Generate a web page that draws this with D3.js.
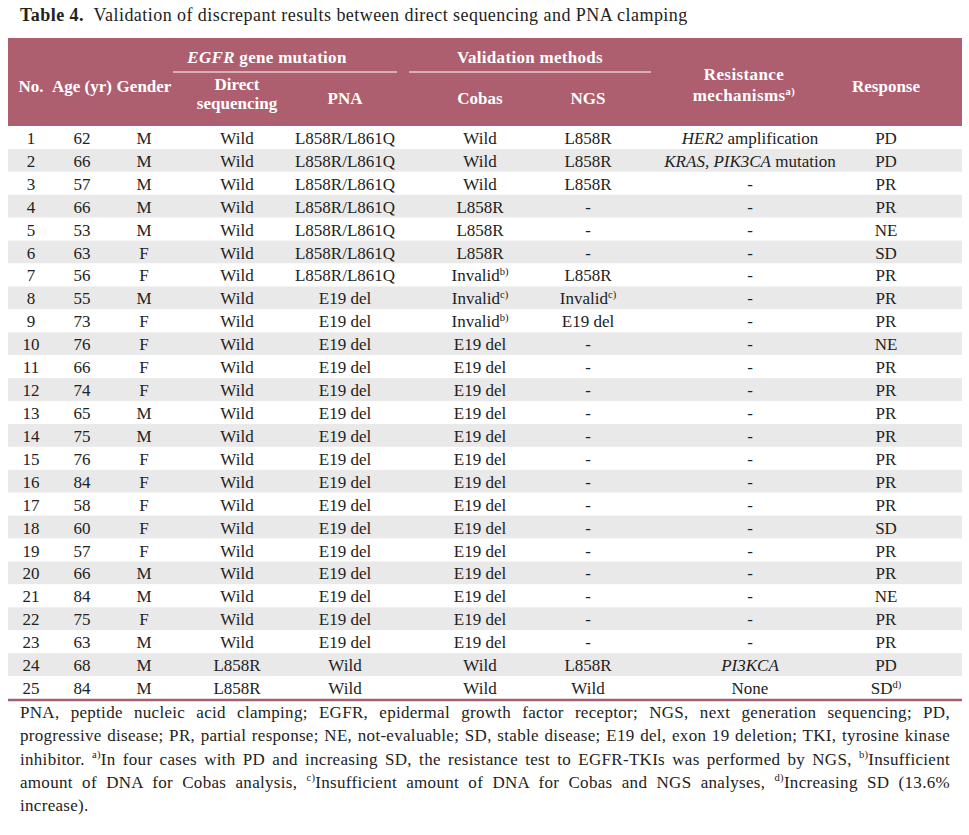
<!DOCTYPE html>
<html>
<head>
<meta charset="utf-8">
<script src="https://cdn.jsdelivr.net/npm/d3@7"></script>
<style>
body { margin: 0; background: #fff; }
text { font-family: "Liberation Serif", "Times New Roman", serif; }
</style>
</head>
<body>
<div id="table4"></div>
<script>
// table values, one list per column
var nos = ["1","2","3","4","5","6","7","8","9","10","11","12","13","14","15","16","17","18","19","20","21","22","23","24","25"];
var ages = ["62","66","57","66","53","63","56","55","73","76","66","74","65","75","76","84","58","60","57","66","84","75","63","68","84"];
var genders = ["M","M","M","M","M","F","F","M","F","F","F","F","M","M","F","F","F","F","F","M","M","F","M","M","M"];
var directSeq = ["Wild","Wild","Wild","Wild","Wild","Wild","Wild","Wild","Wild","Wild","Wild","Wild","Wild","Wild","Wild","Wild","Wild","Wild","Wild","Wild","Wild","Wild","Wild","L858R","L858R"];
var pnaResult = ["L858R/L861Q","L858R/L861Q","L858R/L861Q","L858R/L861Q","L858R/L861Q","L858R/L861Q","L858R/L861Q",
    "E19 del","E19 del","E19 del","E19 del","E19 del","E19 del","E19 del","E19 del","E19 del","E19 del","E19 del","E19 del","E19 del","E19 del","E19 del","E19 del","Wild","Wild"];
var cobasResult = ["Wild","Wild","Wild","L858R","L858R","L858R","Invalid<sup>b)</sup>","Invalid<sup>c)</sup>","Invalid<sup>b)</sup>",
    "E19 del","E19 del","E19 del","E19 del","E19 del","E19 del","E19 del","E19 del","E19 del","E19 del","E19 del","E19 del","E19 del","E19 del","Wild","Wild"];
var ngsResult = ["L858R","L858R","L858R","-","-","-","L858R","Invalid<sup>c)</sup>","E19 del",
    "-","-","-","-","-","-","-","-","-","-","-","-","-","-","L858R","Wild"];
var resistance = ["<i>HER2</i> amplification","<i>KRAS, PIK3CA</i> mutation","-","-","-","-","-","-","-",
    "-","-","-","-","-","-","-","-","-","-","-","-","-","-","<i>PI3KCA</i>","None"];
var responses = ["PD","PD","PR","PR","NE","SD","PR","PR","PR","NE","PR","PR","PR","PR","PR","PR","PR","SD","PR","PR","NE","PR","PR","PD","SD<sup>d)</sup>"];

var columns = ["no","age","gender","direct","pna","cobas","ngs","resist","response"];
var columnData = [nos, ages, genders, directSeq, pnaResult, cobasResult, ngsResult, resistance, responses];

var footLines = [
    "PNA, peptide nucleic acid clamping; EGFR, epidermal growth factor receptor; NGS, next generation sequencing; PD,",
    "progressive disease; PR, partial response; NE, not-evaluable; SD, stable disease; E19 del, exon 19 deletion; TKI, tyrosine kinase",
    "inhibitor. <sup>a)</sup>In four cases with PD and increasing SD, the resistance test to EGFR-TKIs was performed by NGS, <sup>b)</sup>Insufficient",
    "amount of DNA for Cobas analysis, <sup>c)</sup>Insufficient amount of DNA for Cobas and NGS analyses, <sup>d)</sup>Increasing SD (13.6%",
    "increase)."
];

var width = 969, height = 835;
var headColor = "#ad5e6f";
var stripe = "#e9e9e9";
var fs = 17;

var svg = d3.select("#table4")
    .append("svg")
    .attr("width", width)
    .attr("height", height);

var x = d3.scaleOrdinal()
    .domain(columns)
    .range([31, 82, 144, 237, 345, 480, 588, 750, 886]);

var y = d3.scaleBand()
    .domain(nos)
    .range([126, 699]);

// puts plain / italic / superscript pieces into a text element
function rich(sel, str, size) {
    var parts = str.split(/(<i>.*?<\/i>|<sup>.*?<\/sup>)/).filter(function(s) { return s.length; });
    var raised = false;
    parts.forEach(function(p) {
        var t = sel.append("tspan");
        if (p.indexOf("<sup>") == 0) {
            t.attr("dy", -size * 0.38)
                .style("font-size", (size * 0.62) + "px")
                .text(p.slice(5, -6));
            raised = true;
            return;
        }
        if (p.indexOf("<i>") == 0) {
            t.style("font-style", "italic").text(p.slice(3, -4));
        } else {
            t.text(p);
        }
        if (raised) {
            t.attr("dy", size * 0.38);
            raised = false;
        }
    });
}

// title
var title = svg.append("text")
    .attr("x", 20)
    .attr("y", 21)
    .style("font-size", "18px")
    .style("letter-spacing", "0.45px")
    .attr("fill", "#222");
title.append("tspan").style("font-weight", "bold").text("Table 4.");
title.append("tspan").attr("dx", 5).text(" Validation of discrepant results between direct sequencing and PNA clamping");

// header block
svg.append("rect")
    .attr("x", 8)
    .attr("y", 38)
    .attr("width", 954)
    .attr("height", 88)
    .attr("fill", headColor);

var head = svg.append("g")
    .attr("fill", "#fff")
    .attr("text-anchor", "middle")
    .style("font-weight", "bold")
    .style("font-size", fs + "px");

var headLabels = [
    {col: "no", lines: ["No."], y: [92]},
    {col: "age", lines: ["Age (yr)"], y: [92]},
    {col: "gender", lines: ["Gender"], y: [92]},
    {col: "direct", lines: ["Direct", "sequencing"], y: [90, 109]},
    {col: "pna", lines: ["PNA"], y: [104]},
    {col: "cobas", lines: ["Cobas"], y: [104]},
    {col: "ngs", lines: ["NGS"], y: [104]},
    {col: "resist", lines: ["Resistance", "mechanisms<sup>a)</sup>"], y: [80, 101], dx: -6},
    {col: "response", lines: ["Response"], y: [92]}
];

headLabels.forEach(function(h) {
    h.lines.forEach(function(line, i) {
        var t = head.append("text")
            .attr("x", x(h.col) + (h.dx || 0))
            .attr("y", h.y[i]);
        if (h.col == "resist") t.style("letter-spacing", "0.4px");
        rich(t, line, fs);
    });
});

var eg = head.append("text").attr("x", 267).attr("y", 63).style("letter-spacing", "0.3px");
rich(eg, "<i>EGFR</i> gene mutation", fs);
head.append("text").attr("x", 530).attr("y", 63).style("letter-spacing", "0.3px").text("Validation methods");

head.append("line")
    .attr("x1", 173).attr("x2", 397)
    .attr("y1", 72).attr("y2", 72)
    .attr("stroke", "#fff").attr("stroke-width", 1);
head.append("line")
    .attr("x1", 409).attr("x2", 651)
    .attr("y1", 72).attr("y2", 72)
    .attr("stroke", "#fff").attr("stroke-width", 1);

// body rows
var rows = svg.selectAll(".row")
    .data(nos)
    .enter().append("g")
    .attr("class", "row");

rows.append("rect")
    .attr("x", 8)
    .attr("y", function(d) { return y(d); })
    .attr("width", 954)
    .attr("height", y.bandwidth())
    .attr("fill", function(d, i) { return i % 2 == 1 ? stripe : "#fff"; });

rows.each(function(d, i) {
    var g = d3.select(this);
    columns.forEach(function(c, j) {
        var t = g.append("text")
            .attr("x", x(c))
            .attr("y", y(d) + y.bandwidth() / 2 + 6.5)
            .attr("text-anchor", "middle")
            .attr("fill", "#222")
            .style("font-size", fs + "px");
        rich(t, columnData[j][i], fs);
    });
});

svg.append("line")
    .attr("x1", 8).attr("x2", 962)
    .attr("y1", 700).attr("y2", 700)
    .attr("stroke", "#a2606e")
    .attr("stroke-width", 2.5);

// footnote, justified line by line
var foot = svg.append("g")
    .attr("fill", "#222")
    .style("letter-spacing", "0.3px")
    .style("font-size", fs + "px");

footLines.forEach(function(line, i) {
    var t = foot.append("text")
        .attr("x", 20)
        .attr("y", 718 + i * 23.3);
    rich(t, line, fs);
    if (i < footLines.length - 1) {
        var w = t.node().getComputedTextLength();
        var gaps = line.replace(/<[^>]+>/g, "").split(" ").length - 1;
        t.style("word-spacing", ((930 - w) / gaps) + "px");
    }
});
</script>
</body>
</html>
